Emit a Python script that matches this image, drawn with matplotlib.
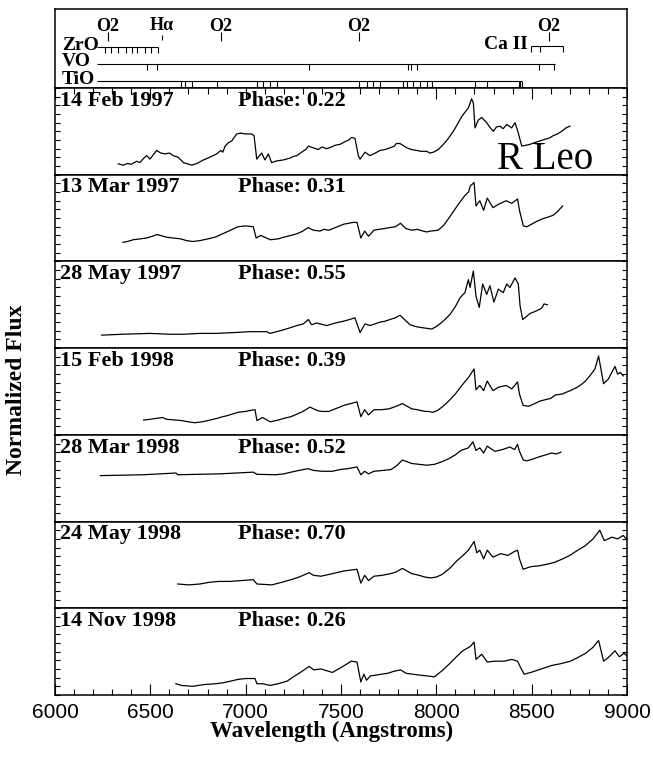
import numpy as np
import matplotlib.pyplot as plt
from matplotlib.ticker import MultipleLocator

plt.rcParams['font.family'] = 'Liberation Serif'

dates = ['14 Feb 1997', '13 Mar 1997', '28 May 1997', '15 Feb 1998',
         '28 Mar 1998', '24 May 1998', '14 Nov 1998']
phases = ['0.22', '0.31', '0.55', '0.39', '0.52', '0.70', '0.26']

wl1 = [6332, 6358, 6380, 6400, 6428, 6445, 6465, 6481, 6498, 6533,
       6555, 6577, 6600, 6620, 6647, 6673, 6717, 6745, 6778, 6800,
       6820, 6848, 6870, 6880, 6892, 6910, 6927, 6953, 6975, 6997,
       7032, 7044, 7058, 7084, 7101, 7119, 7136, 7165, 7197, 7230,
       7250, 7268, 7300, 7315, 7329, 7355, 7380, 7400, 7425, 7450,
       7470, 7495, 7520, 7540, 7556, 7573, 7591, 7600, 7626, 7652,
       7680, 7705, 7730, 7757, 7780, 7790, 7809, 7845, 7870, 7897,
       7920, 7950, 7965, 7985, 8010, 8037, 8060, 8089, 8110, 8133,
       8150, 8168, 8185, 8194, 8203, 8220, 8238, 8264, 8280, 8299,
       8315, 8334, 8350, 8369, 8395, 8413, 8430, 8448, 8470, 8491,
       8515, 8544, 8570, 8590, 8613, 8635, 8657, 8680, 8701]
fl1 = [0.125, 0.11, 0.13, 0.12, 0.155, 0.14, 0.19, 0.22, 0.18, 0.28,
       0.25, 0.24, 0.25, 0.22, 0.20, 0.14, 0.11, 0.13, 0.17, 0.19,
       0.21, 0.24, 0.28, 0.26, 0.33, 0.37, 0.39, 0.47, 0.48, 0.47,
       0.47, 0.45, 0.18, 0.25, 0.17, 0.24, 0.14, 0.16, 0.17, 0.19,
       0.21, 0.22, 0.27, 0.29, 0.33, 0.31, 0.29, 0.32, 0.30, 0.32,
       0.34, 0.35, 0.38, 0.40, 0.43, 0.42, 0.22, 0.18, 0.26, 0.22,
       0.25, 0.28, 0.29, 0.31, 0.33, 0.36, 0.36, 0.31, 0.29, 0.28,
       0.27, 0.27, 0.25, 0.26, 0.29, 0.35, 0.41, 0.50, 0.58, 0.67,
       0.72, 0.77, 0.875, 0.83, 0.54, 0.63, 0.66, 0.60, 0.55, 0.50,
       0.55, 0.56, 0.53, 0.58, 0.54, 0.60, 0.48, 0.33, 0.34, 0.35,
       0.37, 0.39, 0.41, 0.42, 0.45, 0.47, 0.50, 0.54, 0.56]

wl2 = [6356, 6380, 6410, 6446, 6480, 6510, 6535, 6584, 6620, 6660,
       6690, 6723, 6760, 6802, 6840, 6870, 6901, 6930, 6960, 7000,
       7040, 7055, 7079, 7129, 7170, 7200, 7238, 7270, 7300, 7327,
       7356, 7390, 7410, 7436, 7470, 7515, 7564, 7584, 7604, 7624,
       7644, 7673, 7700, 7730, 7753, 7785, 7812, 7840, 7871, 7900,
       7930, 7950, 7970, 8010, 8040, 8069, 8100, 8129, 8150, 8169,
       8178, 8198, 8208, 8228, 8248, 8267, 8297, 8327, 8366, 8396,
       8426, 8436, 8456, 8475, 8500, 8525, 8555, 8584, 8610, 8634,
       8650, 8663]
fl2 = [0.22, 0.23, 0.25, 0.26, 0.27, 0.29, 0.31, 0.28, 0.27, 0.26,
       0.24, 0.23, 0.24, 0.26, 0.28, 0.31, 0.34, 0.37, 0.40, 0.41,
       0.40, 0.27, 0.30, 0.25, 0.26, 0.28, 0.30, 0.32, 0.35, 0.39,
       0.36, 0.35, 0.37, 0.36, 0.39, 0.43, 0.45, 0.45, 0.27, 0.35,
       0.29, 0.36, 0.37, 0.38, 0.39, 0.40, 0.44, 0.38, 0.36, 0.37,
       0.35, 0.34, 0.35, 0.36, 0.42, 0.51, 0.61, 0.70, 0.76, 0.80,
       0.87, 0.91, 0.64, 0.70, 0.59, 0.73, 0.62, 0.66, 0.70, 0.67,
       0.72, 0.59, 0.41, 0.40, 0.43, 0.46, 0.49, 0.51, 0.53, 0.57,
       0.61, 0.64]

wl3 = [6245, 6350, 6498, 6600, 6673, 6760, 6848, 6940, 7023, 7110,
       7128, 7197, 7268, 7302, 7329, 7346, 7372, 7425, 7470, 7512,
       7545, 7573, 7600, 7626, 7652, 7705, 7730, 7757, 7785, 7809,
       7862, 7890, 7914, 7945, 7976, 8000, 8019, 8045, 8072, 8100,
       8124, 8150, 8168, 8177, 8194, 8208, 8225, 8243, 8264, 8281,
       8302, 8325, 8351, 8369, 8386, 8413, 8430, 8439, 8453, 8470,
       8491, 8515, 8544, 8555, 8565, 8582]
fl3 = [0.15, 0.16, 0.17, 0.16, 0.16, 0.17, 0.17, 0.18, 0.19, 0.19,
       0.17, 0.21, 0.26, 0.28, 0.33, 0.27, 0.29, 0.26, 0.29, 0.31,
       0.33, 0.35, 0.18, 0.28, 0.26, 0.30, 0.31, 0.33, 0.35, 0.38,
       0.27, 0.25, 0.24, 0.23, 0.22, 0.25, 0.28, 0.33, 0.39, 0.48,
       0.58, 0.64, 0.79, 0.70, 0.89, 0.60, 0.47, 0.74, 0.62, 0.72,
       0.53, 0.68, 0.64, 0.74, 0.70, 0.81, 0.74, 0.49, 0.33, 0.36,
       0.40, 0.42, 0.45, 0.47, 0.51, 0.50]

wl4 = [6465, 6500, 6530, 6564, 6584, 6663, 6700, 6733, 6770, 6802,
       6850, 6880, 6901, 6930, 6960, 7000, 7020, 7049, 7059, 7089,
       7129, 7170, 7200, 7238, 7270, 7300, 7337, 7376, 7400, 7436,
       7470, 7515, 7550, 7584, 7604, 7624, 7644, 7673, 7710, 7752,
       7790, 7822, 7871, 7900, 7940, 7960, 7980, 8005, 8030, 8065,
       8099, 8130, 8168, 8198, 8208, 8228, 8248, 8267, 8297, 8327,
       8366, 8396, 8426, 8436, 8455, 8485, 8515, 8544, 8580, 8600,
       8624, 8660, 8680, 8703, 8740, 8760, 8782, 8805, 8832, 8851,
       8877, 8901, 8937, 8951, 8965, 8980]
fl4 = [0.17, 0.18, 0.19, 0.20, 0.18, 0.165, 0.15, 0.14, 0.15, 0.165,
       0.19, 0.21, 0.22, 0.24, 0.26, 0.27, 0.28, 0.29, 0.165, 0.20,
       0.15, 0.17, 0.19, 0.21, 0.24, 0.27, 0.32, 0.28, 0.27, 0.27,
       0.30, 0.34, 0.36, 0.38, 0.21, 0.29, 0.23, 0.29, 0.29, 0.30,
       0.33, 0.36, 0.30, 0.29, 0.27, 0.27, 0.26, 0.28, 0.32, 0.39,
       0.47, 0.56, 0.66, 0.76, 0.52, 0.57, 0.51, 0.62, 0.51, 0.55,
       0.57, 0.53, 0.61, 0.47, 0.34, 0.33, 0.36, 0.39, 0.41, 0.42,
       0.46, 0.47, 0.49, 0.51, 0.55, 0.58, 0.62, 0.68, 0.76, 0.91,
       0.59, 0.64, 0.79, 0.70, 0.72, 0.68]

wl5 = [6238, 6465, 6634, 6644, 6861, 7040, 7059, 7158, 7200, 7238,
       7280, 7327, 7356, 7400, 7455, 7495, 7535, 7584, 7604, 7624,
       7644, 7673, 7720, 7762, 7790, 7822, 7871, 7910, 7950, 7990,
       8030, 8069, 8100, 8129, 8168, 8192, 8208, 8228, 8248, 8267,
       8307, 8346, 8386, 8410, 8426, 8436, 8456, 8475, 8505, 8544,
       8575, 8604, 8630, 8653]
fl5 = [0.53, 0.54, 0.56, 0.54, 0.55, 0.57, 0.545, 0.54, 0.55, 0.57,
       0.59, 0.61, 0.59, 0.58, 0.58, 0.60, 0.61, 0.63, 0.54, 0.58,
       0.55, 0.58, 0.59, 0.60, 0.64, 0.71, 0.67, 0.66, 0.65, 0.66,
       0.69, 0.73, 0.77, 0.82, 0.85, 0.92, 0.82, 0.85, 0.79, 0.87,
       0.81, 0.83, 0.86, 0.83, 0.89, 0.81, 0.71, 0.70, 0.72, 0.75,
       0.77, 0.79, 0.78, 0.80]

wl6 = [6644, 6703, 6760, 6810, 6861, 6920, 6980, 7040, 7059, 7138,
       7190, 7238, 7280, 7333, 7356, 7395, 7436, 7475, 7515, 7550,
       7584, 7604, 7624, 7644, 7673, 7715, 7762, 7790, 7822, 7871,
       7910, 7940, 7970, 8000, 8030, 8070, 8109, 8140, 8168, 8198,
       8212, 8228, 8248, 8267, 8297, 8337, 8376, 8406, 8426, 8436,
       8455, 8495, 8540, 8584, 8620, 8663, 8700, 8742, 8780, 8822,
       8857, 8881, 8921, 8951, 8980, 8996]
fl6 = [0.28, 0.27, 0.28, 0.30, 0.31, 0.31, 0.32, 0.33, 0.28, 0.27,
       0.30, 0.33, 0.36, 0.41, 0.38, 0.37, 0.39, 0.41, 0.43, 0.44,
       0.45, 0.29, 0.38, 0.32, 0.37, 0.38, 0.40, 0.42, 0.46, 0.40,
       0.38, 0.36, 0.35, 0.36, 0.39, 0.46, 0.55, 0.61, 0.67, 0.77,
       0.64, 0.67, 0.57, 0.67, 0.59, 0.63, 0.61, 0.65, 0.67, 0.57,
       0.45, 0.48, 0.49, 0.51, 0.53, 0.57, 0.61, 0.67, 0.72, 0.80,
       0.90, 0.78, 0.82, 0.80, 0.84, 0.80]

wl7 = [6634, 6663, 6723, 6780, 6842, 6880, 6921, 6960, 7000, 7049,
       7059, 7089, 7129, 7170, 7218, 7250, 7287, 7333, 7356, 7396,
       7425, 7455, 7495, 7525, 7554, 7584, 7604, 7620, 7634, 7654,
       7685, 7713, 7745, 7772, 7812, 7842, 7875, 7911, 7950, 7990,
       8030, 8069, 8105, 8139, 8178, 8198, 8208, 8238, 8267, 8307,
       8356, 8396, 8426, 8441, 8461, 8495, 8550, 8604, 8650, 8703,
       8740, 8782, 8822, 8851, 8877, 8901, 8937, 8960, 8984, 8996]
fl7 = [0.13, 0.11, 0.10, 0.12, 0.13, 0.14, 0.16, 0.18, 0.19, 0.19,
       0.13, 0.13, 0.11, 0.13, 0.16, 0.21, 0.26, 0.33, 0.29, 0.30,
       0.28, 0.26, 0.31, 0.35, 0.39, 0.38, 0.15, 0.24, 0.17, 0.22,
       0.23, 0.24, 0.25, 0.27, 0.29, 0.25, 0.24, 0.23, 0.22, 0.21,
       0.28, 0.36, 0.44, 0.51, 0.56, 0.61, 0.41, 0.47, 0.38, 0.39,
       0.39, 0.41, 0.39, 0.32, 0.24, 0.26, 0.30, 0.34, 0.36, 0.39,
       0.43, 0.48, 0.55, 0.63, 0.39, 0.43, 0.51, 0.44, 0.48, 0.46]

# molecular bands and atomic lines marked in the top strip (Angstroms)
zro = [6262, 6294, 6330, 6372, 6404, 6430, 6472, 6503, 6540]
vo = [6482, 6535, 7332, 7851, 7867, 7899, 8538, 8617]
tio = [6659, 6682, 6717, 6848, 7058, 7092, 7127, 7163, 7594, 7635, 7670, 7705, 7823, 7845,
       7879, 7914, 7949, 7976, 8203, 8264, 8434, 8440, 8448]
o2 = [6278, 6871, 7594, 8591]
halpha = 6561
caii = [8498, 8542, 8662]

wls = [wl1, wl2, wl3, wl4, wl5, wl6, wl7]
fls = [fl1, fl2, fl3, fl4, fl5, fl6, fl7]

W, H = 653, 758
fig = plt.figure(figsize=(W / 100, H / 100), dpi=100)
left = 55 / W
width = 572 / W
bold = dict(fontweight='bold')

# top strip with line identifications, y in pixel rows
ax0 = fig.add_axes([left, 1 - 88 / H, width, 79 / H])
ax0.set_xlim(6000, 9000)
ax0.set_ylim(88, 9)
ax0.set_xticks([])
ax0.set_yticks([])
for s in ax0.spines.values():
    s.set_linewidth(1.1)
lw = 0.8
ax0.hlines(47, 6222, max(zro), color='k', lw=lw)
ax0.vlines(zro, 47, 53, color='k', lw=lw)
ax0.hlines(64, 6222, max(vo) + 5, color='k', lw=lw)
ax0.vlines(vo, 64, 70, color='k', lw=lw)
ax0.hlines(81, 6222, max(tio), color='k', lw=lw)
ax0.vlines(tio, 81, 87, color='k', lw=lw)
ax0.text(6037, 49.5, 'ZrO', fontsize=14, va='baseline', **bold)
ax0.text(6037, 66.5, 'VO', fontsize=14, va='baseline', **bold)
ax0.text(6037, 83.5, 'TiO', fontsize=14, va='baseline', **bold)
for w in o2:
    ax0.text(w, 31, 'O2', fontsize=13, ha='center', va='baseline', **bold)
    ax0.vlines(w, 32, 41, color='k', lw=lw)
ax0.text(halpha, 30, 'H\u03b1', fontsize=13, ha='center', va='baseline', **bold)
ax0.vlines(halpha, 35, 40, color='k', lw=lw)
ax0.hlines(46, min(caii), max(caii), color='k', lw=lw)
ax0.vlines(caii, 46, 52, color='k', lw=lw)
ax0.text(8480, 49, 'Ca II', fontsize=14, ha='right', va='baseline', **bold)

ph = 607 / 7
for i in range(7):
    bot = 1 - (88 + ph * (i + 1)) / H
    ax = fig.add_axes([left, bot, width, ph / H])
    ax.plot(wls[i], fls[i], color='k', lw=0.9)
    ax.set_xlim(6000, 9000)
    ax.set_ylim(0, 1)
    for s in ax.spines.values():
        s.set_linewidth(1.1)
    ax.yaxis.set_major_locator(MultipleLocator(0.1))
    ax.tick_params(axis='y', direction='in', left=True, right=True, labelleft=False,
                   length=3.6, width=0.8)
    ax.xaxis.set_major_locator(MultipleLocator(500))
    ax.xaxis.set_minor_locator(MultipleLocator(100))
    ax.tick_params(axis='x', which='both', direction='in', bottom=(i == 6), top=(i == 0),
                   labelbottom=(i == 6), width=0.8)
    ax.tick_params(axis='x', which='major', length=8, pad=6, labelsize=15,
                   labelfontfamily='Liberation Sans')
    ax.tick_params(axis='x', which='minor', length=4)
    ax.text(0.008, 0.795, dates[i], transform=ax.transAxes, fontsize=16, va='baseline', **bold)
    ax.text(0.32, 0.795, 'Phase: ' + phases[i], transform=ax.transAxes, fontsize=16,
            va='baseline', **bold)
    if i == 0:
        ax.text(0.773, 0.07, 'R Leo', transform=ax.transAxes, fontsize=28, va='baseline')

fig.text(332 / W, 1 - 737 / H, 'Wavelength (Angstroms)', ha='center', va='baseline',
         fontsize=16.5, **bold)
fig.text(17 / W, 1 - 390 / H, 'Normalized Flux', rotation=90, ha='center', va='center',
         fontsize=17, **bold)

plt.savefig('out.png', dpi=100)
